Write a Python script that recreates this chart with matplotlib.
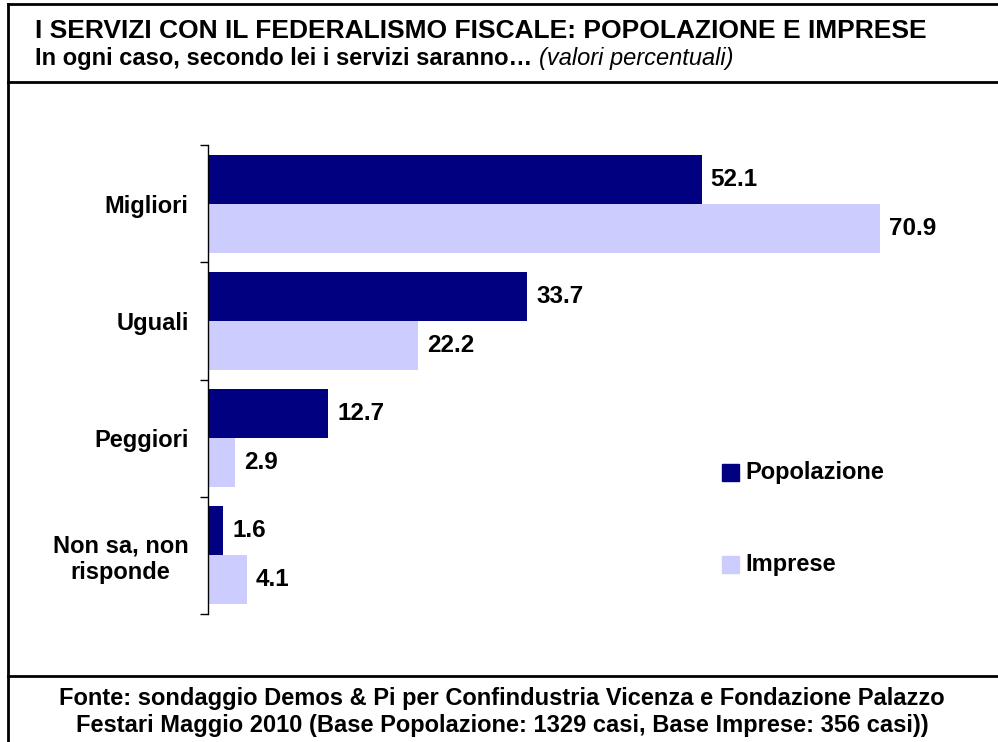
import matplotlib
matplotlib.use("Agg")
import matplotlib.pyplot as plt
from matplotlib.lines import Line2D
from matplotlib.patches import Rectangle

plt.rcParams['font.family'] = ['Liberation Sans', 'DejaVu Sans']

categories = ["Migliori", "Uguali", "Peggiori", "Non sa, non\nrisponde"]
popolazione = [52.1, 33.7, 12.7, 1.6]
imprese = [70.9, 22.2, 2.9, 4.1]
series_names = ["Popolazione", "Imprese"]
colors = ["#000080", "#CCCCFF"]

W, H = 998, 742
fig = plt.figure(figsize=(W / 100, H / 100), dpi=100)

def fx(px):
    return px / W

def fy(py):
    return 1 - py / H

ax_left, ax_right, ax_top, ax_bottom = 208, 966, 145, 614
ax = fig.add_axes([fx(ax_left), fy(ax_bottom), fx(ax_right - ax_left), (ax_bottom - ax_top) / H])

n = len(categories)
pos = list(range(n))
bh = 0.418
ax.barh([p - bh / 2 for p in pos], popolazione, height=bh, color=colors[0], label=series_names[0])
ax.barh([p + bh / 2 for p in pos], imprese, height=bh, color=colors[1], label=series_names[1])

ax.set_xlim(0, 80)
ax.set_ylim(n - 0.5, -0.5)
for s in ["top", "right", "bottom"]:
    ax.spines[s].set_visible(False)
ax.spines["left"].set_linewidth(1.0)
ax.spines["left"].set_color("#000000")
ax.set_xticks([])
ax.set_yticks([p - 0.5 for p in pos] + [n - 0.5])
ax.set_yticklabels([])
ax.tick_params(axis='y', which='major', length=6, width=1.0, direction='out')
ax.set_yticks(pos, minor=True)
ax.set_yticklabels(categories, minor=True, fontsize=17, fontweight='bold', multialignment='center')
ax.tick_params(axis='y', which='minor', length=0, pad=14)

fs_val = 17.5
for p, v in zip(pos, popolazione):
    ax.annotate(f"{v:.1f}", (v, p - bh / 2), xytext=(9, 0), textcoords='offset pixels',
                va='center', ha='left', fontsize=fs_val, fontweight='bold')
for p, v in zip(pos, imprese):
    ax.annotate(f"{v:.1f}", (v, p + bh / 2), xytext=(9, 0), textcoords='offset pixels',
                va='center', ha='left', fontsize=fs_val, fontweight='bold')

# legend drawn manually
for i, (name, c) in enumerate(zip(series_names, colors)):
    yc = 472.5 + i * 92
    fig.patches.append(Rectangle((fx(722), fy(yc + 8.5)), fx(17), 17 / H,
                                 transform=fig.transFigure, color=c))
    fig.text(fx(745), fy(yc), name, fontsize=17, fontweight='bold', va='center', ha='left')

# borders
lw = 2.0
fig.add_artist(Line2D([fx(8), fx(8)], [fy(4), 0], transform=fig.transFigure, color='black', lw=lw))
fig.add_artist(Line2D([fx(8), 1], [fy(4), fy(4)], transform=fig.transFigure, color='black', lw=lw))
fig.add_artist(Line2D([fx(8), 1], [fy(82), fy(82)], transform=fig.transFigure, color='black', lw=lw))
fig.add_artist(Line2D([fx(8), 1], [fy(675.5), fy(675.5)], transform=fig.transFigure, color='black', lw=lw))

# titles
fig.text(fx(35), fy(38), "I SERVIZI CON IL FEDERALISMO FISCALE: POPOLAZIONE E IMPRESE",
         fontsize=19, fontweight='bold', va='baseline', ha='left')
t1 = fig.text(fx(35), fy(65), "In ogni caso, secondo lei i servizi saranno\u2026 ",
              fontsize=17, fontweight='bold', va='baseline', ha='left')
fig.canvas.draw()
bb = t1.get_window_extent()
fig.text(bb.x1 / W, fy(65), "(valori percentuali)", fontsize=17, fontstyle='italic',
         va='baseline', ha='left')

fig.text(fx(502), fy(705), "Fonte: sondaggio Demos & Pi per Confindustria Vicenza e Fondazione Palazzo",
         fontsize=17, fontweight='bold', va='baseline', ha='center')
fig.text(fx(502), fy(732), "Festari Maggio 2010 (Base Popolazione: 1329 casi, Base Imprese: 356 casi))",
         fontsize=17, fontweight='bold', va='baseline', ha='center')

fig.savefig("out.png", dpi=100)
